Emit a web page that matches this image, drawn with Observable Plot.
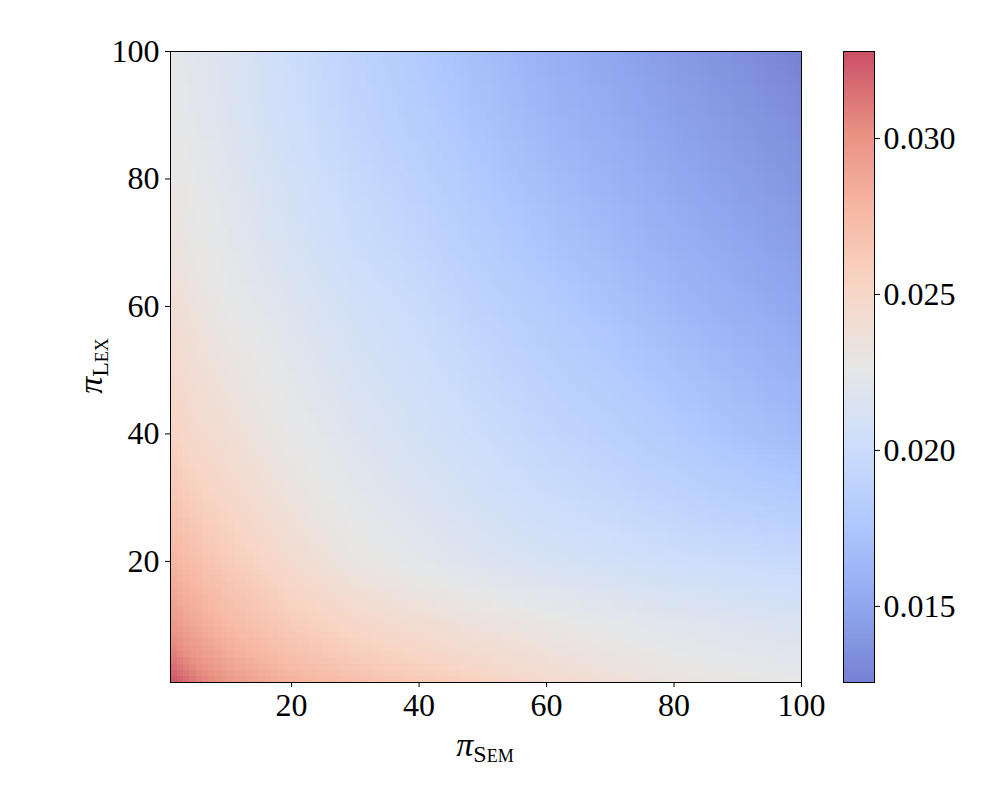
<!DOCTYPE html>
<html><head><meta charset="utf-8">
<script src="https://cdn.jsdelivr.net/npm/d3@7"></script>
<script src="https://cdn.jsdelivr.net/npm/@observablehq/plot@0.6"></script>
<style>
body{margin:0;background:#fff;}
#wrap{position:relative;width:1000px;height:800px;background:#fff;}
#wrap svg{position:absolute;top:0;overflow:visible;}
</style></head><body><div id="wrap"></div>
<script>
// grid sample positions (pi_SEM on x, pi_LEX on y)
const piSem = [1,5,10,20,30,40,50,60,70,80,90,100];
const piLex = [1,5,10,20,30,40,50,60,70,80,90,100];
// values, one row per pi_LEX value
const lex1   = [0.03279,0.03117,0.02976,0.02814,0.02713,0.02632,0.02551,0.02470,0.02399,0.02338,0.02298,0.02268];
const lex5   = [0.03117,0.02988,0.02862,0.02709,0.02603,0.02526,0.02452,0.02383,0.02322,0.02270,0.02233,0.02203];
const lex10  = [0.02976,0.02870,0.02761,0.02609,0.02498,0.02425,0.02357,0.02298,0.02247,0.02201,0.02166,0.02140];
const lex20  = [0.02793,0.02713,0.02611,0.02450,0.02308,0.02227,0.02156,0.02106,0.02065,0.02025,0.01994,0.01964];
const lex30  = [0.02658,0.02577,0.02498,0.02348,0.02229,0.02148,0.02071,0.02005,0.01952,0.01895,0.01841,0.01794];
const lex40  = [0.02551,0.02470,0.02409,0.02268,0.02166,0.02085,0.02005,0.01924,0.01863,0.01792,0.01721,0.01661];
const lex50  = [0.02480,0.02409,0.02338,0.02217,0.02116,0.02035,0.01944,0.01863,0.01792,0.01717,0.01646,0.01580];
const lex60  = [0.02409,0.02348,0.02268,0.02166,0.02065,0.01984,0.01883,0.01802,0.01721,0.01640,0.01570,0.01499];
const lex70  = [0.02348,0.02292,0.02223,0.02110,0.02002,0.01918,0.01818,0.01733,0.01655,0.01576,0.01507,0.01438];
const lex80  = [0.02308,0.02253,0.02193,0.02069,0.01958,0.01867,0.01768,0.01677,0.01598,0.01519,0.01450,0.01381];
const lex90  = [0.02268,0.02217,0.02162,0.02029,0.01911,0.01816,0.01717,0.01622,0.01543,0.01466,0.01398,0.01329];
const lex100 = [0.02247,0.02197,0.02146,0.02005,0.01883,0.01782,0.01681,0.01580,0.01499,0.01418,0.01347,0.01256];
const xTicks = [20,40,60,80,100];
const yTicks = [20,40,60,80,100];
const cbTicks = [0.015,0.020,0.025,0.030];

const rows = [lex1,lex5,lex10,lex20,lex30,lex40,lex50,lex60,lex70,lex80,lex90,lex100];
const points = [];
rows.forEach((r,i)=>r.forEach((v,j)=>points.push({x:piSem[j], y:piLex[i], v})));
const [vmin, vmax] = d3.extent(points, d=>d.v);

// matplotlib "coolwarm" drawn at alpha 0.7 over white
const coolwarm = [[59,76,192],[98,130,234],[141,176,254],[184,208,249],[221,221,221],[245,196,173],[244,154,123],[222,96,77],[180,4,38]];
const stops = coolwarm.map(c=>d3.rgb(...c.map(k=>k*0.7+255*0.3)).formatHex());
const cmap = d3.piecewise(d3.interpolateRgb, stops);
const colorOpt = {type:"linear", domain:[vmin,vmax], interpolate:cmap};
const font = "'Liberation Serif', 'DejaVu Serif', serif";

const main = Plot.plot({
  width:1000, height:800, marginLeft:170, marginRight:199, marginTop:51, marginBottom:118,
  style:{fontFamily:font, fontSize:"32px", color:"black", background:"transparent"},
  x:{domain:[1,100]}, y:{domain:[1,100]},
  color:colorOpt,
  marks:[
    Plot.raster(points,{x:"x",y:"y",fill:"v",x1:1,x2:100,y1:1,y2:100,width:100,height:100,interpolate:"barycentric",imageRendering:"pixelated"}),
    Plot.frame({stroke:"black", strokeWidth:1}),
    Plot.axisX({ticks:xTicks, tickSize:5, tickPadding:6, fontSize:32, label:null}),
    Plot.axisY({ticks:yTicks, tickSize:5, tickPadding:6, fontSize:32, label:null})
  ]
});

const cb = Plot.plot({
  width:157, height:800, marginLeft:0, marginRight:126, marginTop:51, marginBottom:118,
  style:{fontFamily:font, fontSize:"32px", color:"black", background:"transparent"},
  x:{domain:[0,1], axis:null},
  y:{domain:[vmin,vmax]},
  color:colorOpt,
  marks:[
    Plot.raster({fill:(x,y)=>y, x1:0, x2:1, y1:vmin, y2:vmax, width:1, height:400}),
    Plot.frame({stroke:"black", strokeWidth:1}),
    Plot.axisY({anchor:"right", ticks:cbTicks, tickSize:5, tickPadding:4, fontSize:32, tickFormat:d3.format(".3f"), label:null})
  ]
});

const wrap = document.getElementById("wrap");
main.style.left = "0px";
cb.style.left = "843px";
wrap.appendChild(main);
wrap.appendChild(cb);

const svg = d3.select(main);
const xl = svg.append("text").attr("transform","translate(485,756)").attr("text-anchor","middle")
  .attr("font-family",font).attr("fill","black");
xl.append("tspan").attr("font-style","italic").attr("font-size",34).text("π");
xl.append("tspan").attr("dy",6).attr("font-size",24).text("S");
xl.append("tspan").attr("font-size",18).text("EM");
const yl = svg.append("text").attr("transform","translate(102,366) rotate(-90)").attr("text-anchor","middle")
  .attr("font-family",font).attr("fill","black");
yl.append("tspan").attr("font-style","italic").attr("font-size",34).text("π");
yl.append("tspan").attr("dy",6).attr("font-size",24).text("L");
yl.append("tspan").attr("font-size",18).text("EX");
</script></body></html>
